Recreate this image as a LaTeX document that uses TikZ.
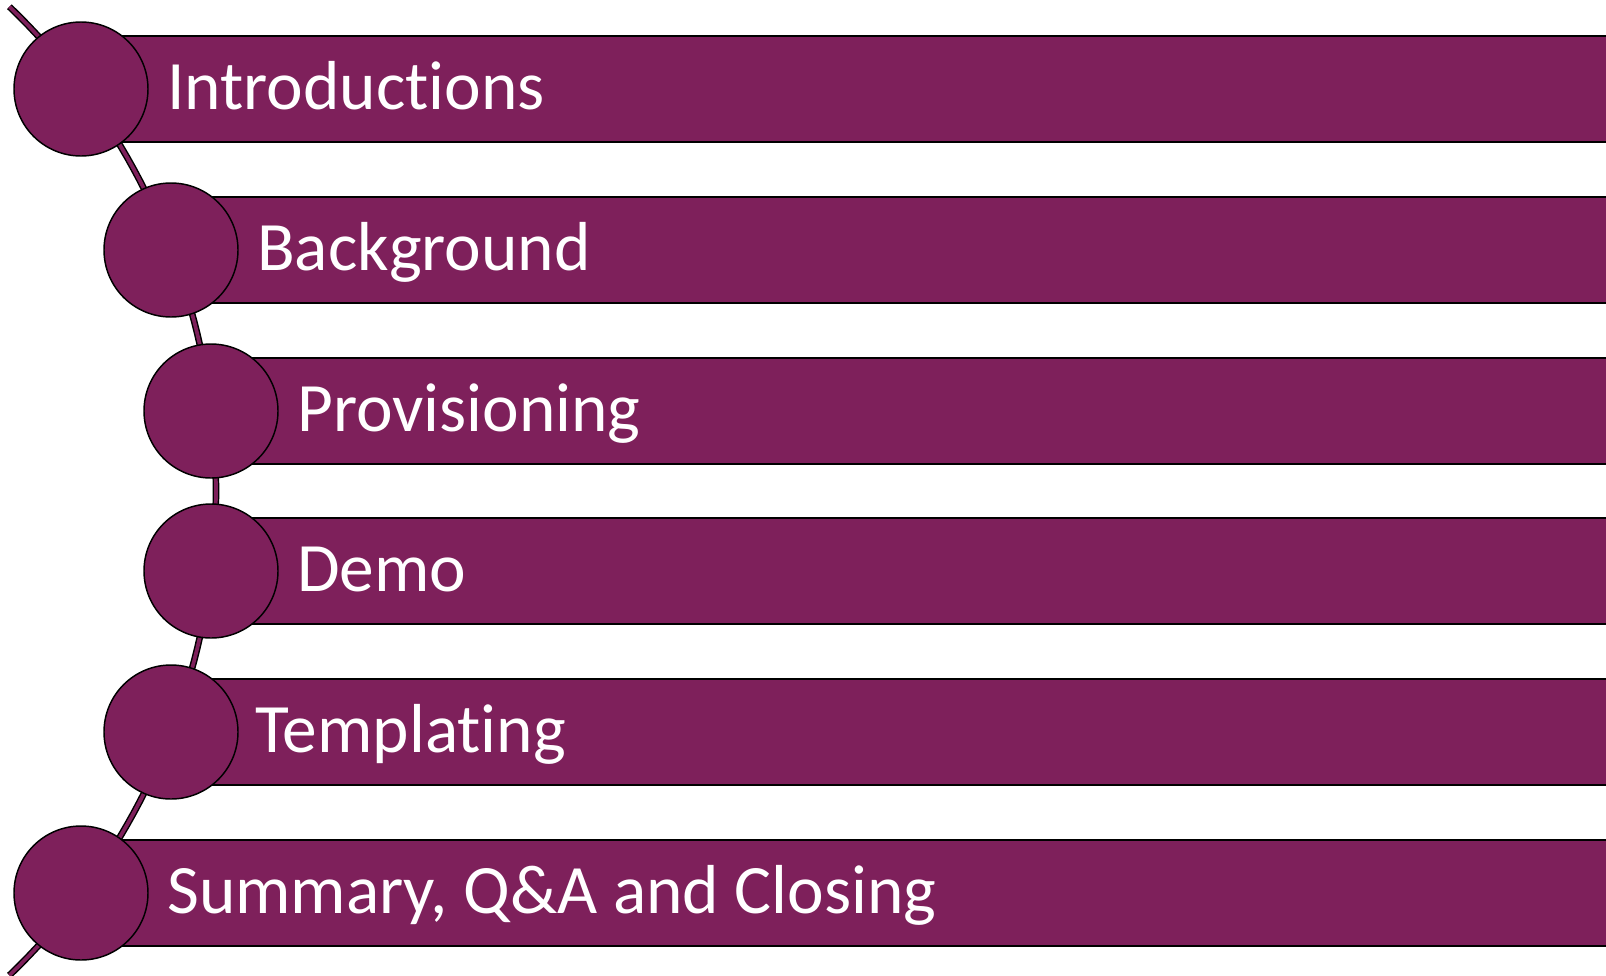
\documentclass[tikz,border=0pt]{standalone}
\usepackage{fontspec}
\setmainfont{Carlito}[Ligatures={NoCommon}]
\definecolor{plum}{HTML}{7E205B}
\begin{document}
\begin{tikzpicture}[x=0.75pt,y=-0.75pt,
  bar/.style={fill=plum,draw=black,line width=1.4pt},
  circ/.style={circle,fill=plum,draw=black,line width=1.1pt,minimum size=100.5pt,inner sep=0pt},
  lbl/.style={anchor=base west,text=white,font=\fontsize{52}{60}\selectfont,inner sep=0pt},
  spine/.style={draw=black,double=plum,line width=1.1pt,double distance=2.8pt}]
\useasboundingbox (0,0) rectangle (1606,975);
\clip (0,0) rectangle (1606,975);
\fill[white] (0,0) rectangle (1606,975);
% spine arc
\draw[spine] plot[domain=-46.2:46.2,samples=80] ({-455+671*cos(\x)},{491+671*sin(\x)});
% bars
\foreach \cx/\cy [count=\i] in {81/89,171/250,211/411,211/571,171/732,81/893}{
  \draw[bar] (\cx,\cy-53) rectangle (1620,\cy+53);
}
% circles
\foreach \cx/\cy [count=\i] in {81/89,171/250,211/411,211/571,171/732,81/893}{
  \node[circ] (c\i) at (\cx,\cy) {};
}
\node[lbl] (t1) at (167,109) {Introductions};
\node[lbl] (t2) at (257,270) {Background};
\node[lbl] (t3) at (297,431) {Provisioning};
\node[lbl] (t4) at (297,591) {Demo};
\node[lbl] (t5) at (255,752) {Templating};
\node[lbl] (t6) at (167,913) {Summary, Q\&A and Closing};
\end{tikzpicture}
\end{document}
